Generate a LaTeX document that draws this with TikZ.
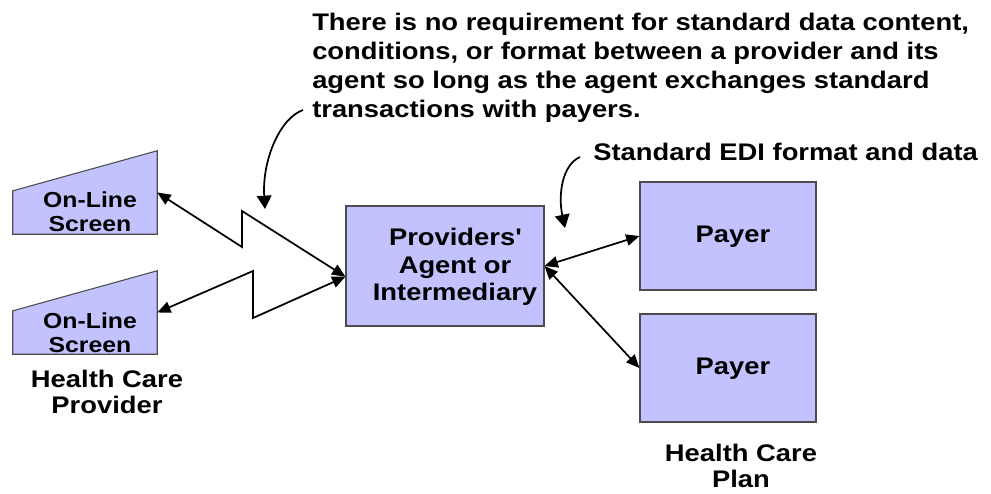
\documentclass[tikz,border=0pt]{standalone}
\usepackage{fontspec}
\setmainfont[FakeStretch=1.14]{Liberation Sans}
\usepackage{tikz}
\usetikzlibrary{arrows.meta,calc}

\definecolor{boxblue}{RGB}{194,194,255}
\tikzset{
    box/.style={draw=black!70, fill=boxblue, line width=0.8pt, inner sep=0pt},
    lbl/.style={font=\bfseries\fontsize{18}{19}\selectfont, align=center, inner sep=0pt},
    scrlbl/.style={font=\bfseries\fontsize{16.3}{18}\selectfont, align=center, inner sep=0pt},
    note/.style={font=\bfseries\fontsize{18}{21.75}\selectfont, align=left, inner sep=0pt},
    link/.style={line width=1.3pt, {Triangle[length=10pt,width=8.5pt]}-{Triangle[length=10pt,width=8.5pt]}},
    hint/.style={line width=1.3pt, -{Triangle[length=10pt,width=11pt]}}
}

\begin{document}
\begin{tikzpicture}[x=0.75pt,y=-0.75pt]
    \useasboundingbox (0,0) rectangle (991,493);

    % provider screens
    \node[inner sep=0pt, minimum width=108pt, minimum height=62.25pt] (scr1) at (85,192.5) {};
    \filldraw[box] (scr1.south west) -- ($(scr1.south west)!0.52!(scr1.north west)$) -- (scr1.north east) -- (scr1.south east) -- cycle;
    \node[scrlbl] (scr1txt) at (90,212) {On-Line\\Screen};

    \node[inner sep=0pt, minimum width=108pt, minimum height=62.25pt] (scr2) at (85,312.5) {};
    \filldraw[box] (scr2.south west) -- ($(scr2.south west)!0.52!(scr2.north west)$) -- (scr2.north east) -- (scr2.south east) -- cycle;
    \node[scrlbl] (scr2txt) at (90,333) {On-Line\\Screen};

    \node[lbl] (provider) at (107,392) {Health Care\\Provider};

    % agent and payers
    \node[box, minimum width=148.5pt, minimum height=90pt] (agent) at (445,266) {};
    \node[lbl, font=\bfseries\fontsize{18}{20.6}\selectfont] (agenttxt) at (455,267) {Providers\textquotesingle\\Agent or\\Intermediary};

    \node[box, minimum width=132pt, minimum height=81pt] (pay1) at (728,236) {};
    \node[lbl] (pay1txt) at (733,237) {Payer};
    \node[box, minimum width=132pt, minimum height=81pt] (pay2) at (728,368) {};
    \node[lbl] (pay2txt) at (733,369) {Payer};
    \node[lbl] (plan) at (741,466) {Health Care\\Plan};

    % links
    \coordinate (agentin) at ([yshift=-8pt]agent.west);
    \draw[link] (scr1.east) -- (242,247) -- (242,211) -- (agentin);
    \draw[link] (scr2.east) -- (253,271) -- (253,318) -- (agentin);
    \draw[link] (agent.east) -- (pay1.west);
    \draw[link] (agent.east) -- (pay2.west);

    % notes
    \node[note, anchor=north west] (freetxt) at (312,13) {There is no requirement for standard data content,\\conditions, or format between a provider and its\\agent so long as the agent exchanges standard\\transactions with payers.};
    \node[note, anchor=west] (editxt) at (593,152) {Standard EDI format and data};

    \coordinate (freetail) at (303,110);
    \coordinate (freetip) at (265,209);
    \draw[hint] (freetail) .. controls (280,118) and (262,160) .. (freetip);
    \coordinate (editail) at (580,157);
    \coordinate (editip) at (565,228);
    \draw[hint] (editail) .. controls (562,165) and (558,195) .. (editip);
\end{tikzpicture}
\end{document}
